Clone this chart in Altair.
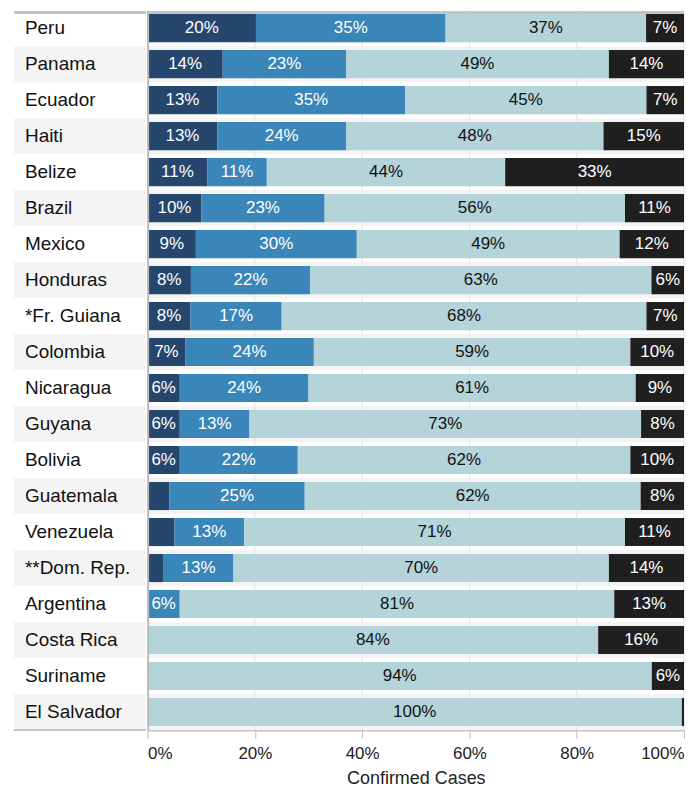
import altair as alt
import pandas as pd

countries = ["Peru", "Panama", "Ecuador", "Haiti", "Belize", "Brazil", "Mexico",
             "Honduras", "*Fr. Guiana", "Colombia", "Nicaragua", "Guyana", "Bolivia",
             "Guatemala", "Venezuela", "**Dom. Rep.", "Argentina", "Costa Rica",
             "Suriname", "El Salvador"]
groups = ["Age 0-19", "Age 20-39", "Age 40-59", "Age 60+"]
g1 = [20, 14, 13, 13, 11, 10, 9, 8, 8, 7, 6, 6, 6, 4, 5, 3, 0, 0, 0, 0]
g2 = [35, 23, 35, 24, 11, 23, 30, 22, 17, 24, 24, 13, 22, 25, 13, 13, 6, 0, 0, 0]
g3 = [37, 49, 45, 48, 44, 56, 49, 63, 68, 59, 61, 73, 62, 62, 71, 70, 81, 84, 94, 100]
g4 = [7, 14, 7, 15, 33, 11, 12, 6, 7, 10, 9, 8, 10, 8, 11, 14, 13, 16, 6, 0.4]
ticks = [0, 0.2, 0.4, 0.6, 0.8, 1.0]

colors = ["#26466e", "#3a86b8", "#b4d4da", "#1f1f1f"]
text_colors = ["#ffffff", "#ffffff", "#111111", "#ffffff"]

rows = []
for gi, (g, vals) in enumerate(zip(groups, [g1, g2, g3, g4])):
    for c, v in zip(countries, vals):
        rows.append({"country": c, "group": g, "order": gi, "value": v})
df = pd.DataFrame(rows)
cdf = pd.DataFrame({"country": countries, "idx": list(range(len(countries)))})
tdf = pd.DataFrame({"t": ticks})

FONT = "Liberation Sans"
H = 722
W_LAB = 132
W_BAR = 538

yscale = alt.Scale(domain=countries, paddingInner=0, paddingOuter=0)

# ---------- label panel ----------
lab_band = alt.Chart(cdf).transform_filter("datum.idx % 2 == 1").mark_rect(
    color="#f4f4f4").encode(
    y=alt.Y("country:N", scale=yscale, axis=None),
    x=alt.value(0), x2=alt.value("width"))
lab_text = alt.Chart(cdf).mark_text(align="left", baseline="middle", font=FONT,
                                    fontSize=19, color="#111111").encode(
    y=alt.Y("country:N", scale=yscale, axis=None),
    x=alt.value(11), text="country:N")
lab_top = alt.Chart(cdf).mark_rule(color="#c4c4c4", strokeWidth=2).encode(
    x=alt.value(0), x2=alt.value("width"), y=alt.value(2))
lab_bot = alt.Chart(cdf).mark_rule(color="#c4c4c4", strokeWidth=2).encode(
    x=alt.value(0), x2=alt.value("width"), y=alt.value(H))
labels = alt.layer(lab_band, lab_text, lab_top, lab_bot).properties(
    width=W_LAB, height=H)

# ---------- bar panel ----------
xscale = alt.Scale(domain=[0, 1], nice=False)
xaxis = alt.Axis(values=ticks, format=".0%", labelFlush=True, grid=False,
                 tickColor="#bdbdbd", tickSize=8, domainColor="#c4c4c4",
                 domainWidth=2, labelFontSize=17, labelFont=FONT,
                 labelColor="#222222", labelPadding=8, title="Confirmed Cases",
                 titleFont=FONT, titleFontSize=18, titleFontWeight="normal",
                 titleColor="#222222", titlePadding=8)
yaxis = alt.Axis(labels=False, ticks=False, title=None,
                 domainColor="#bdbdbd", domainWidth=2)

bar_band = alt.Chart(cdf).transform_filter("datum.idx % 2 == 1").mark_rect(
    color="#f4f4f4").encode(
    y=alt.Y("country:N", scale=yscale, axis=yaxis),
    x=alt.value(0), x2=alt.value("width"))
grid = alt.Chart(tdf).mark_rule(color="#e2e2e2", strokeWidth=1).encode(
    x=alt.X("t:Q", scale=xscale, axis=xaxis))

base = alt.Chart(df).transform_joinaggregate(
    total="sum(value)", groupby=["country"]
).transform_calculate(
    frac="datum.value / datum.total"
).transform_stack(
    stack="frac", as_=["x0", "x1"], groupby=["country"],
    sort=[alt.SortField("order", "ascending")]
).transform_calculate(
    mid="(datum.x0 + datum.x1) / 2",
    label="format(datum.value, '.0f') + '%'"
)

bars = base.mark_bar(height=alt.RelativeBandSize(0.78)).encode(
    y=alt.Y("country:N", scale=yscale, axis=yaxis),
    x=alt.X("x0:Q", scale=xscale, axis=xaxis),
    x2="x1:Q",
    color=alt.Color("group:N", scale=alt.Scale(domain=groups, range=colors),
                    legend=None))
seg_text = base.transform_filter("datum.value >= 5.5").mark_text(
    font=FONT, fontSize=17, baseline="middle", align="center").encode(
    y=alt.Y("country:N", scale=yscale, axis=yaxis),
    x=alt.X("mid:Q", scale=xscale, axis=xaxis),
    text="label:N",
    color=alt.Color("group:N", scale=alt.Scale(domain=groups, range=text_colors),
                    legend=None))
bar_top = alt.Chart(cdf).mark_rule(color="#c4c4c4", strokeWidth=2).encode(
    x=alt.value(0), x2=alt.value("width"), y=alt.value(2))

plot = alt.layer(bar_band, grid, bars, seg_text, bar_top).resolve_scale(
    color="independent").properties(width=W_BAR, height=H)

chart = alt.hconcat(labels, plot, spacing=0).properties(
    padding={"left": 5, "top": 0, "right": 0, "bottom": 0}
).configure_view(stroke=None)

chart.save("out.html", embed_options={"renderer": "svg", "actions": False})
